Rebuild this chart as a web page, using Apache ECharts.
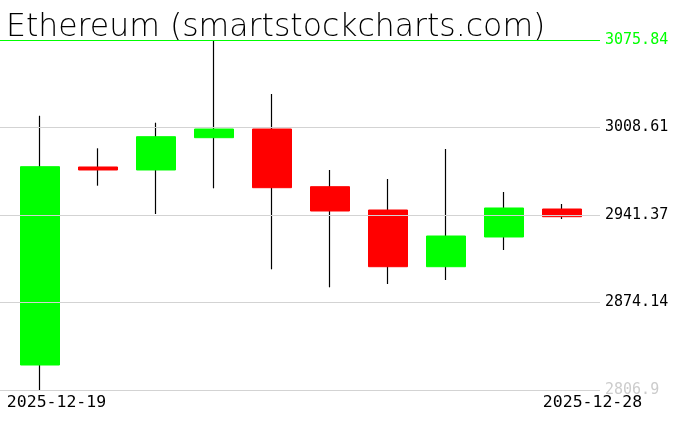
<!DOCTYPE html>
<html>
<head>
<meta charset="utf-8">
<script src="https://cdn.jsdelivr.net/npm/echarts@6/dist/echarts.min.js"></script>
<style>html,body{margin:0;padding:0;background:#fff}#c{width:676px;height:431px}</style>
</head>
<body>
<div id="c"></div>
<script>
var categories = ['2025-12-19','2025-12-20','2025-12-21','2025-12-22','2025-12-23','2025-12-24','2025-12-25','2025-12-26','2025-12-27','2025-12-28'];
var opens  = [2826.11, 2978.26, 2975.95, 3000.77, 3007.45, 2963.12, 2945.21, 2901.64, 2924.47, 2945.98];
var closes = [2978.49, 2975.95, 3001.54, 3007.45, 2962.35, 2944.44, 2901.64, 2925.23, 2946.75, 2940.06];
var lows   = [2806.90, 2963.89, 2942.14, 2961.88, 2899.64, 2885.81, 2888.35, 2891.42, 2914.48, 2938.30];
var highs  = [3017.67, 2992.62, 3012.29, 3075.84, 3034.35, 2975.95, 2969.03, 2992.08, 2959.04, 2949.82];
var yTickLabels = ['2806.9', '2874.14', '2941.37', '3008.61', '3075.84'];
var yMin = 2806.9, yMax = 3075.84;
var title = 'Ethereum (smartstockcharts.com)';

var UP = '#00ff00', DOWN = '#ff0000';

var wickData = categories.map(function (c, i) { return [opens[i], closes[i], lows[i], highs[i]]; });
var bodyData = categories.map(function (c, i) {
  return [opens[i], closes[i], Math.min(opens[i], closes[i]), Math.max(opens[i], closes[i])];
});

var chart = echarts.init(document.getElementById('c'), null, {renderer: 'canvas'});
chart.setOption({
  animation: false,
  backgroundColor: '#ffffff',
  title: {
    text: title, left: 1, top: 7,
    textStyle: {fontFamily: 'DejaVu Sans', fontSize: 31.5, fontWeight: 200, color: '#000'}
  },
  grid: [
    {left: 0, width: 600, top: 40, height: 350},
    {left: 11, width: 580, top: 40, height: 350}
  ],
  xAxis: [
    {type: 'category', gridIndex: 0, data: categories, show: false},
    {
      type: 'category', gridIndex: 1, data: categories, boundaryGap: true,
      axisLine: {show: false}, axisTick: {show: false}, splitLine: {show: false},
      axisLabel: {
        interval: function (i) { return i === 0 || i === categories.length - 1; },
        margin: 4,
        fontFamily: 'DejaVu Sans Mono', fontSize: 16.5, color: '#000',
        formatter: function (v, i) {
          return i === 0 ? '{a|' + v + '}' : '{b|' + v + '}';
        },
        rich: {
          a: {fontFamily: 'DejaVu Sans Mono', fontSize: 16.5, color: '#000', padding: [0, 0, 0, 33]},
          b: {fontFamily: 'DejaVu Sans Mono', fontSize: 16.5, color: '#000', padding: [0, 0, 0, 61]}
        }
      }
    }
  ],
  yAxis: [
    {
      type: 'value', gridIndex: 0, position: 'right', min: 0, max: 4, interval: 1, z: 10,
      axisLine: {show: false}, axisTick: {show: false},
      splitLine: {show: true, lineStyle: {color: ['#d3d3d3', '#d3d3d3', '#d3d3d3', '#d3d3d3', UP], width: 1}},
      axisLabel: {
        margin: 5, fontFamily: 'DejaVu Sans Mono', fontSize: 15,
        padding: [0, 0, 10, 0],
        formatter: function (v) { return yTickLabels[Math.round(v)]; },
        color: function (v) {
          var k = Math.round(v);
          return k === 4 ? UP : (k === 0 ? '#cccccc' : '#000000');
        }
      }
    },
    {type: 'value', gridIndex: 1, min: yMin, max: yMax, show: false, splitLine: {show: false}}
  ],
  series: [
    {
      type: 'candlestick', name: 'wick', xAxisIndex: 1, yAxisIndex: 1, z: 2,
      barWidth: 1, data: wickData,
      itemStyle: {color: '#000', color0: '#000', borderColor: '#000', borderColor0: '#000', borderWidth: 1.2}
    },
    {
      type: 'candlestick', name: 'body', xAxisIndex: 1, yAxisIndex: 1, z: 3,
      barWidth: 40, data: bodyData,
      itemStyle: {color: UP, color0: DOWN, borderColor: UP, borderColor0: DOWN, borderWidth: 1}
    }
  ]
});
</script>
</body>
</html>
